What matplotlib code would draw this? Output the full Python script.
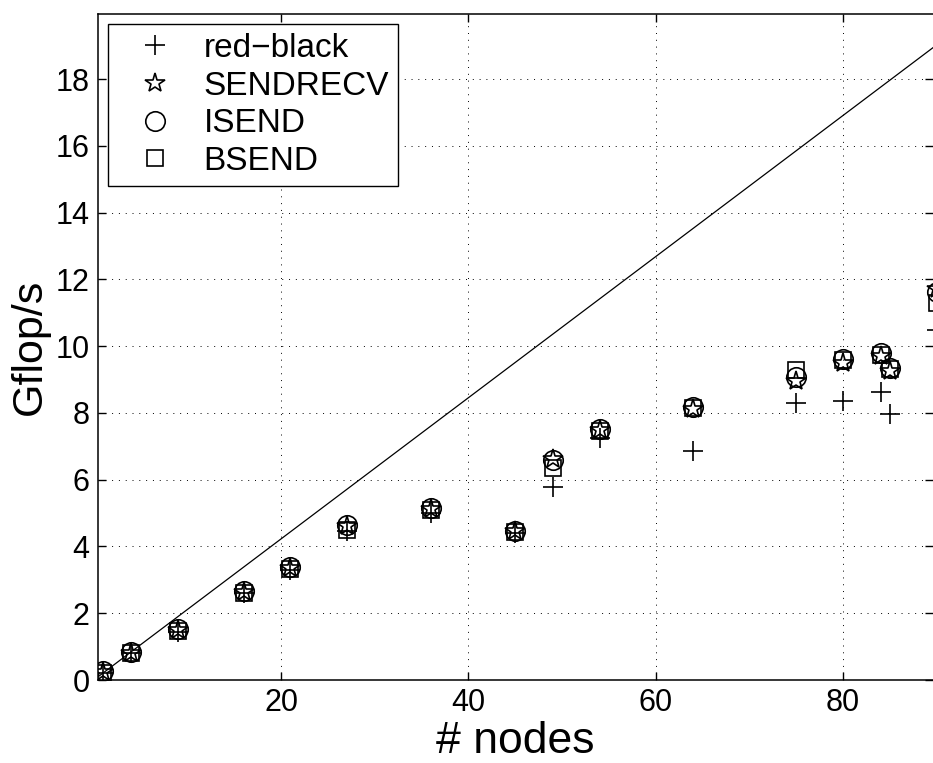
import matplotlib
matplotlib.use("Agg")
import matplotlib.pyplot as plt
import numpy as np

plt.rcParams['font.family'] = ['Liberation Sans', 'DejaVu Sans']

nodes = [1, 4, 9, 16, 21, 27, 36, 45, 49, 54, 64, 75, 80, 84, 85, 90]
red_black = [0.22, 0.80, 1.45, 2.60, 3.30, 4.45, 5.00, 4.40, 5.78, 7.25, 6.87, 8.31, 8.36, 8.62, 7.97, 10.47]
sendrecv = [0.24, 0.82, 1.50, 2.64, 3.36, 4.62, 5.12, 4.45, 6.62, 7.50, 8.12, 8.95, 9.50, 9.72, 9.25, 11.70]
isend = [0.26, 0.84, 1.53, 2.67, 3.38, 4.63, 5.15, 4.47, 6.60, 7.51, 8.19, 9.09, 9.61, 9.79, 9.34, 11.63]
bsend = [0.22, 0.80, 1.48, 2.60, 3.33, 4.50, 5.10, 4.42, 6.36, 7.45, 8.15, 9.29, 9.60, 9.75, 9.32, 11.30]

# ideal linear scaling from the single-node rate
ideal_rate = 0.2114
ideal_x = np.array([0, 100])

W, H = 933, 763
fig = plt.figure(figsize=(W / 100, H / 100), dpi=100)
ax = fig.add_axes([98 / W, (H - 680) / H, (W - 98) / W, (680 - 14) / H])

ax.plot(ideal_x, ideal_rate * ideal_x, color='black', lw=0.9)

mk = dict(linestyle='none', color='black', markerfacecolor='none', markeredgewidth=1.2)
ax.plot(nodes, red_black, marker='+', markersize=14, label='red\u2212black', **mk)
ax.plot(nodes, sendrecv, marker='*', markersize=15, label='SENDRECV', **mk)
ax.plot(nodes, isend, marker='o', markersize=14, label='ISEND', **mk)
ax.plot(nodes, bsend, marker='s', markersize=12, label='BSEND', **mk)

ax.set_xlim(0.45, 89.6)
ax.set_ylim(0, 19.95)
ax.set_xticks([20, 40, 60, 80])
ax.set_yticks(np.arange(0, 19, 2))
ax.grid(True, color='black', linestyle=(0, (1, 6)), linewidth=0.7)
ax.tick_params(direction='in', length=6, width=1, labelsize=22, top=True, right=True, pad=6)
ax.spines['right'].set_visible(False)
for s in ['left', 'top', 'bottom']:
    ax.spines[s].set_linewidth(1.1)

ax.set_xlabel('# nodes', fontsize=32, labelpad=2)
ax.set_ylabel('Gflop/s', fontsize=31, labelpad=4)

leg = ax.legend(loc='upper left', bbox_to_anchor=(10 / 835, 1 - 10 / 666), borderaxespad=0,
                fontsize=24, fancybox=False, framealpha=1, edgecolor='black',
                handlelength=2.3, handletextpad=0.3, labelspacing=0.2, borderpad=0.27,
                numpoints=1)
leg.get_frame().set_linewidth(1.0)

fig.savefig('out.png', dpi=100)
